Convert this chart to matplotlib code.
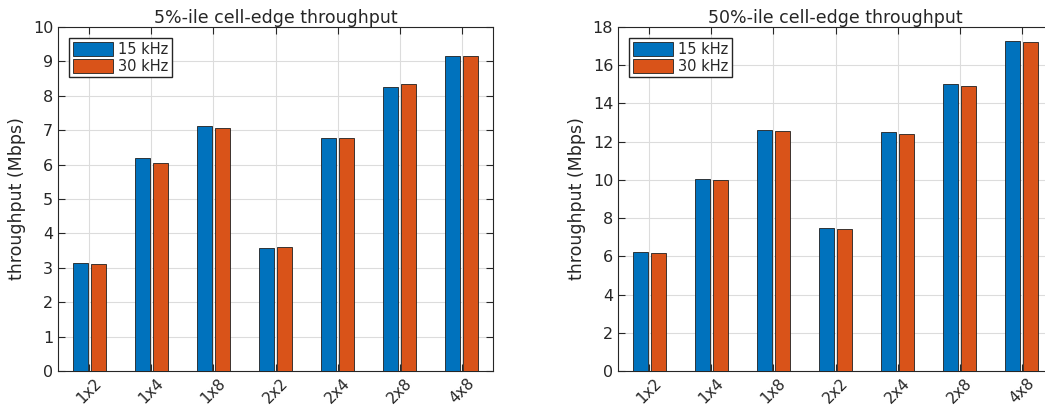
import matplotlib
matplotlib.use("Agg")
import matplotlib.pyplot as plt
import numpy as np

categories = ["1x2", "1x4", "1x8", "2x2", "2x4", "2x8", "4x8"]
series_names = ["15 kHz", "30 kHz"]

p5_15khz = [3.13, 6.20, 7.11, 3.57, 6.77, 8.27, 9.16]
p5_30khz = [3.11, 6.04, 7.07, 3.61, 6.77, 8.35, 9.16]

p50_15khz = [6.25, 10.05, 12.62, 7.48, 12.52, 15.03, 17.28]
p50_30khz = [6.19, 9.99, 12.57, 7.42, 12.39, 14.93, 17.21]

colors = ["#0072BD", "#D95319"]
ink = "#262626"

plt.rcParams["font.family"] = ["DejaVu Sans"]

fig = plt.figure(figsize=(10.45, 4.12), dpi=100)
ax_l = fig.add_axes([58 / 1045, 1 - 371 / 412, 435 / 1045, 344 / 412])
ax_r = fig.add_axes([618 / 1045, 1 - 371 / 412, 435 / 1045, 344 / 412])


def draw(ax, s15, s30, title, ymax, ystep):
    x = np.arange(1, len(categories) + 1)
    w = 0.24
    off = 0.145
    for vals, dx, c, name in ((s15, -off, colors[0], series_names[0]),
                              (s30, off, colors[1], series_names[1])):
        ax.bar(x + dx, vals, width=w, color=c, edgecolor="#202020",
               linewidth=0.6, label=name, zorder=3)
    ax.set_xlim(0.5, len(categories) + 0.5)
    ax.set_ylim(0, ymax)
    ax.set_yticks(np.arange(0, ymax + 0.01, ystep))
    ax.set_xticks(x)
    ax.set_xticklabels(categories, rotation=45, fontsize=11, color=ink)
    ax.tick_params(axis="y", labelsize=11.5, colors=ink)
    ax.tick_params(direction="in", top=True, right=True, length=5,
                   width=0.8, color=ink)
    ax.grid(True, color="#dcdcdc", linewidth=0.8, zorder=0)
    ax.set_axisbelow(True)
    for s in ax.spines.values():
        s.set_color(ink)
        s.set_linewidth(0.8)
    ax.set_title(title, fontsize=12.5, color=ink, pad=3)
    ax.set_ylabel("throughput (Mbps)", fontsize=12.5, color=ink, labelpad=5)
    leg = ax.legend(loc="upper left", fontsize=10.5, frameon=True, fancybox=False,
                    handlelength=2.8, handleheight=1.1, borderpad=0.25,
                    labelspacing=0.15, handletextpad=0.3, borderaxespad=0.75)
    leg.get_frame().set_edgecolor(ink)
    leg.get_frame().set_linewidth(1.0)
    leg.get_frame().set_alpha(1)
    for t in leg.get_texts():
        t.set_color(ink)


draw(ax_l, p5_15khz, p5_30khz, "5%-ile cell-edge throughput", 10, 1)
draw(ax_r, p50_15khz, p50_30khz, "50%-ile cell-edge throughput", 18, 2)

fig.savefig("out.png", dpi=100)
